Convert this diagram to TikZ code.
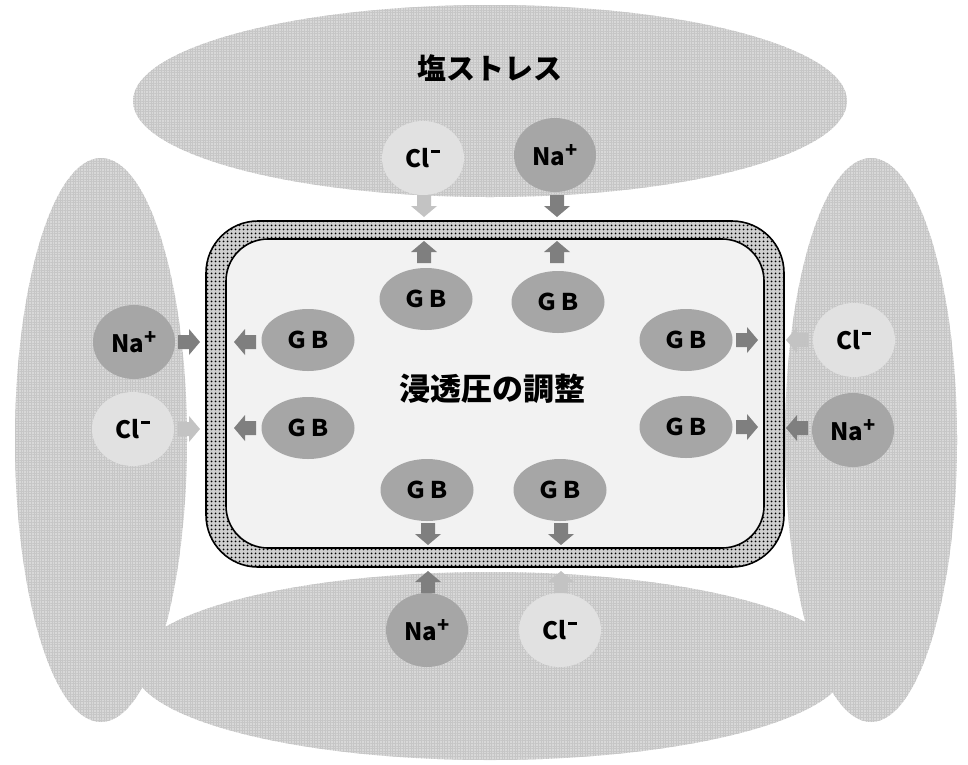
\documentclass[tikz,border=0pt]{standalone}
\usepackage{fontspec}
\setmainfont{Noto Sans CJK JP}
\usetikzlibrary{shapes.geometric,patterns.meta}
\definecolor{bgell}{HTML}{D8D8D8}
\definecolor{bggrid}{HTML}{C6C6C6}
\definecolor{cellin}{HTML}{F2F2F2}
\definecolor{memb}{HTML}{CFCFCF}
\definecolor{gbfill}{HTML}{A6A6A6}
\definecolor{nafill}{HTML}{A6A6A6}
\definecolor{clfill}{HTML}{E1E1E1}
\definecolor{ardark}{HTML}{7F7F7F}
\definecolor{arlight}{HTML}{C3C3C3}
\newcommand\supplus{\raisebox{0.36em}{\fontsize{20}{20}\selectfont\bfseries +}}
\newcommand\supminus{\hspace{1.5pt}\raisebox{0.62em}{\rule{9pt}{2.2pt}}}
\tikzset{
  bgshape/.style={preaction={fill=bgell}, pattern={Hatch[distance=2.6pt, angle=0, line width=0.5pt]}, pattern color=bggrid},
  ion/.style={ellipse, minimum width=82pt, minimum height=74pt, inner sep=0pt, font=\fontsize{24}{24}\selectfont\bfseries},
  na/.style={ion, fill=nafill},
  cl/.style={ion, fill=clfill},
  gb/.style={ellipse, fill=gbfill, minimum width=93pt, minimum height=62pt, inner sep=0pt, font=\fontsize{23}{23}\selectfont\bfseries},
  blockarr/.pic={\path[pic actions] (-11,-7) -- (0,-7) -- (0,-13) -- (11,0) -- (0,13) -- (0,7) -- (-11,7) -- cycle;},
  dk/.style={fill=ardark},
  lt/.style={fill=arlight},
  title/.style={font=\fontsize{29}{29}\selectfont\bfseries, inner sep=0pt}
}
\begin{document}
\begin{tikzpicture}[x=1pt,y=-1pt]
\useasboundingbox (0,0) rectangle (968,764);
% background ellipses
\path[bgshape] (101,440) ellipse [x radius=86pt, y radius=282pt];
\path[bgshape] (871,440) ellipse [x radius=86pt, y radius=282pt];
\path[bgshape] (490,101) ellipse [x radius=357pt, y radius=96pt];
\path[bgshape] (490,666) ellipse [x radius=357pt, y radius=94pt];
\node[title] (stress) at (490,68) {塩ストレス};
% cell
\node[draw=black, line width=1.6pt, rounded corners=52pt, preaction={fill=memb},
      pattern={Dots[distance=4pt, radius=1.2pt]}, pattern color=black,
      minimum width=578pt, minimum height=346pt] (cell) at (495,394) {};
\node[draw=black, line width=1.6pt, rounded corners=42pt, fill=cellin,
      minimum width=538pt, minimum height=309pt] (inner) at (495,393.5) {};
\node[title, font=\fontsize{31}{31}\selectfont\bfseries] (osmo) at (492,389) {浸透圧の調整};
% ions
\node[cl] (clT) at (423,158) {Cl\supminus};
\node[na] (naT) at (555,155) {Na\supplus};
\node[na] (naL) at (134,342) {Na\supplus};
\node[cl] (clL) at (133,429) {Cl\supminus};
\node[cl] (clR) at (854,340) {Cl\supminus};
\node[na] (naR) at (853,430) {Na\supplus};
\node[na] (naB) at (427,630) {Na\supplus};
\node[cl] (clB) at (560,630) {Cl\supminus};
% GB
\node[gb] (gbT1) at (426,299) {ＧＢ};
\node[gb] (gbT2) at (558,302) {ＧＢ};
\node[gb] (gbL1) at (308,340) {ＧＢ};
\node[gb] (gbL2) at (308,428) {ＧＢ};
\node[gb] (gbR1) at (686,340) {ＧＢ};
\node[gb] (gbR2) at (686,427) {ＧＢ};
\node[gb] (gbB1) at (427,490) {ＧＢ};
\node[gb] (gbB2) at (560,490) {ＧＢ};
% arrows top
\pic[lt, rotate=-90] at (424,206) {blockarr};
\pic[dk, rotate=-90] at (557,206) {blockarr};
\pic[dk, rotate=90] at (424,252) {blockarr};
\pic[dk, rotate=90] at (557,252) {blockarr};
% arrows left
\pic[dk] at (189,342) {blockarr};
\pic[lt] at (189,429) {blockarr};
\pic[dk, rotate=180] at (245,342) {blockarr};
\pic[dk, rotate=180] at (245,428) {blockarr};
% arrows right
\pic[dk] at (747,340) {blockarr};
\pic[dk] at (747,427) {blockarr};
\pic[lt, rotate=180] at (797,340) {blockarr};
\pic[dk, rotate=180] at (797,428) {blockarr};
% arrows bottom
\pic[dk, rotate=-90] at (428,534) {blockarr};
\pic[dk, rotate=-90] at (561,534) {blockarr};
\pic[dk, rotate=90] at (428,582) {blockarr};
\pic[lt, rotate=90] at (561,582) {blockarr};
\end{tikzpicture}
\end{document}
